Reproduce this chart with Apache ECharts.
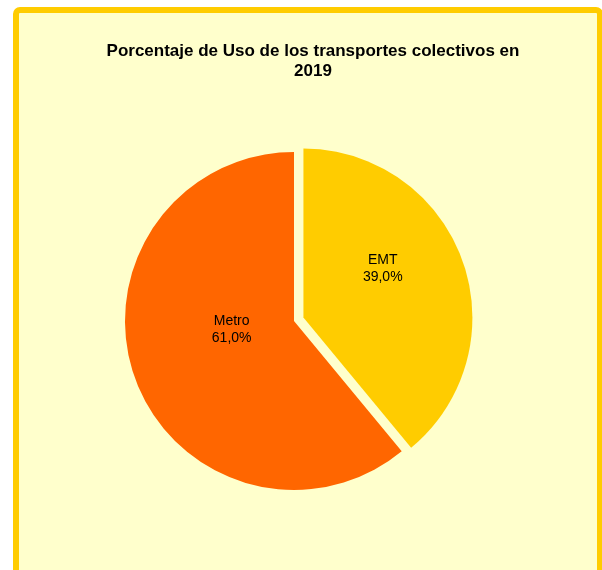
<!DOCTYPE html>
<html>
<head>
<meta charset="utf-8">
<script src="https://cdn.jsdelivr.net/npm/echarts@6/dist/echarts.min.js"></script>
<style>
html,body{margin:0;padding:0;background:#ffffff;}
#chart{width:602px;height:570px;}
</style>
</head>
<body>
<div id="chart"></div>
<script>
const titleText = 'Porcentaje de Uso de los transportes colectivos en\n2019';
const categories = ['EMT', 'Metro'];
const values = [39.0, 61.0];
const colors = ['#FFCC00', '#FF6600'];
const exploded = [true, false];

const chart = echarts.init(document.getElementById('chart'), null, {renderer: 'canvas'});

const labelShift = [[-3, -19], [20, -21]];

chart.setOption({
  backgroundColor: '#ffffff',
  animation: false,
  graphic: [{
    type: 'rect',
    z: -10,
    silent: true,
    shape: {x: 16, y: 10, width: 584, height: 620, r: 4},
    style: {fill: '#FFFFCC', stroke: '#FFCC00', lineWidth: 6}
  }],
  title: {
    text: titleText,
    left: 308,
    top: 36,
    textAlign: 'center',
    textStyle: {
      fontFamily: 'Liberation Sans, Arial, sans-serif',
      fontSize: 17,
      fontWeight: 'bold',
      color: '#000000',
      lineHeight: 20
    }
  },
  series: [{
    type: 'pie',
    center: [294, 321],
    radius: 169,
    startAngle: 90,
    clockwise: true,
    selectedMode: 'single',
    selectedOffset: 10,
    avoidLabelOverlap: false,
    label: {
      show: true,
      position: 'inside',
      formatter: function (p) {
        return p.name + '\n' + p.value.toFixed(1).replace('.', ',') + '%';
      },
      fontFamily: 'Liberation Sans, Arial, sans-serif',
      fontSize: 14,
      lineHeight: 17,
      color: '#000000'
    },
    labelLine: {show: false},
    labelLayout: function (params) {
      const s = labelShift[params.dataIndex];
      return {dx: s[0], dy: s[1]};
    },
    emphasis: {disabled: true},
    itemStyle: {borderWidth: 0},
    data: categories.map(function (c, i) {
      return {
        name: c,
        value: values[i],
        selected: exploded[i],
        itemStyle: {color: colors[i]}
      };
    })
  }]
});
</script>
</body>
</html>
